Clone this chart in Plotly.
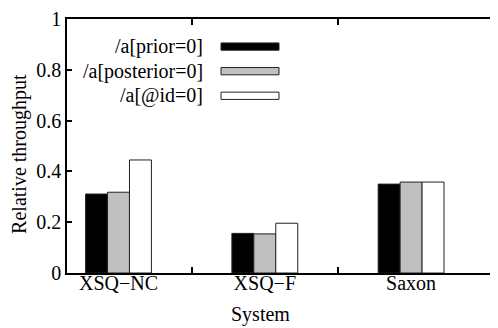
import plotly.graph_objects as go

systems = ["XSQ\u2212NC", "XSQ\u2212F", "Saxon"]
series_names = ["/a[prior=0]", "/a[posterior=0]", "/a[@id=0]"]
prior = [0.311, 0.156, 0.350]
posterior = [0.318, 0.154, 0.358]
atid = [0.445, 0.196, 0.358]
colors = ["#000000", "#c0c0c0", "#ffffff"]
y_ticks = [0, 0.2, 0.4, 0.6, 0.8, 1]
y_ticklabels = ["0", "0.2", "0.4", "0.6", "0.8", "1"]

FONT = "Liberation Serif"
FS = 20
OFF = 8  # default page body margin
W, H = 498 - OFF, 328 - OFF
L, R, T, B = 67 - OFF, 0, 15 - OFF, 328 - 273
pw, ph = W - L - R, H - T - B


def px(xw):
    return (xw - OFF - L) / pw


def py(yw):
    return ((H - B) - (yw - OFF)) / ph


xpos = list(range(len(systems)))
fig = go.Figure()
for name, vals, col in zip(series_names, [prior, posterior, atid], colors):
    fig.add_trace(go.Bar(x=xpos, y=vals, name=name,
                         marker=dict(color=col, line=dict(color="#222222", width=1)),
                         showlegend=False))

fig.update_layout(
    width=W, height=H,
    margin=dict(l=L, r=R, t=T, b=B),
    paper_bgcolor="white", plot_bgcolor="white",
    barmode="group", bargap=0.55, bargroupgap=0,
    font=dict(family=FONT, size=FS, color="black"),
    xaxis=dict(range=[-0.352, 2.594], tickvals=xpos, ticktext=systems, ticks="", showgrid=False,
               showline=True, linecolor="black", linewidth=1.5, mirror="ticks", zeroline=False,
               ticklabeloverflow="allow", ticklabelstandoff=-9,
               minor=dict(tickvals=[0.5, 1.5], ticks="inside", ticklen=6, tickcolor="black", tickwidth=1.5)),
    yaxis=dict(range=[0, 1], tickvals=y_ticks, ticktext=y_ticklabels, ticks="inside", ticklen=5,
               tickwidth=1.5, tickcolor="black", showgrid=False, showline=True, linecolor="black",
               linewidth=1.5, zeroline=False, ticklabeloverflow="allow"),
)

# axis titles
fig.add_annotation(text="System", xref="paper", yref="paper", x=px(260), y=py(315),
                   showarrow=False, xanchor="center", yanchor="middle", font=dict(size=FS))
fig.add_annotation(text="Relative throughput", xref="paper", yref="paper", x=px(20), y=py(152),
                   showarrow=False, textangle=-90, xanchor="center", yanchor="middle", font=dict(size=FS))

# legend (drawn manually: label right-aligned, swatch to its right)
for i, (name, col) in enumerate(zip(series_names, colors)):
    yc = 43 + 25 * i
    fig.add_annotation(text=name, xref="paper", yref="paper", x=px(205), y=py(yc),
                       showarrow=False, xanchor="right", yanchor="middle", font=dict(size=FS))
    fig.add_shape(type="rect", xref="paper", yref="paper",
                  x0=px(221), x1=px(279), y0=py(yc + 3.7), y1=py(yc - 3.7),
                  fillcolor=col, line=dict(color="#222222", width=1))

fig.write_html("out.html")
